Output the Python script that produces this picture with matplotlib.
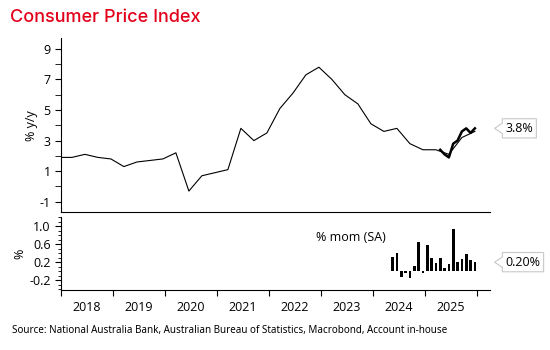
import numpy as np
import matplotlib
matplotlib.use('Agg')
from matplotlib import pyplot as plt
from matplotlib.path import Path
from matplotlib.ticker import MultipleLocator, FixedLocator, NullFormatter

plt.rcParams['font.family'] = ['Open Sans', 'DejaVu Sans']
plt.rcParams['axes.unicode_minus'] = False

# quarterly CPI, % y/y, Q4 2017 .. Q4 2025
q_start = (2017, 4)
cpi_yy_q = [1.9, 1.9, 2.1, 1.9, 1.8, 1.3, 1.6, 1.7, 1.8, 2.2, -0.3, 0.7, 0.9,
            1.1, 3.8, 3.0, 3.5, 5.1, 6.1, 7.3, 7.8, 7.0, 6.0, 5.4, 4.1,
            3.6, 3.8, 2.8, 2.4, 2.4, 2.1, 3.2, 3.6]

# monthly CPI, % y/y, Apr 2025 .. Dec 2025
m_start = (2025, 4)
cpi_yy_m = [2.4, 2.1, 1.9, 2.8, 3.0, 3.6, 3.8, 3.5, 3.8]

# monthly CPI, % m/m SA, May 2024 .. Dec 2025
mom_start = (2024, 5)
cpi_mom = [0.32, 0.40, -0.12, -0.05, -0.15, 0.12, 0.64, -0.05, 0.58, 0.29,
           0.18, 0.29, 0.06, 0.16, 0.93, 0.21, 0.27, 0.39, 0.24, 0.20]

years = list(range(2018, 2026))


def quarter_times(start, n):
    y, q = start
    k = np.arange(n) + (y * 4 + q - 1)
    return k // 4 + ((k % 4) * 3 + 2.5) / 12.0


def month_times(start, n):
    y, m = start
    k = np.arange(n) + (y * 12 + m - 1)
    return k // 12 + ((k % 12) + 0.5) / 12.0


tq = quarter_times(q_start, len(cpi_yy_q))
tm = month_times(m_start, len(cpi_yy_m))
tmom = month_times(mom_start, len(cpi_mom))


def callout_box(x0, y0, width, height, mutation_size):
    pad = mutation_size * 0.25
    x0 -= pad
    y0 -= pad
    width += 2 * pad
    height += 2 * pad
    x1, y1 = x0 + width, y0 + height
    ym = y0 + height / 2
    h = height * 0.27
    verts = [(x0, y0), (x1, y0), (x1, y1), (x0, y1), (x0, ym + h),
             (x0 - h * 1.5, ym), (x0, ym - h), (x0, y0)]
    return Path(verts, closed=True)


fig = plt.figure(figsize=(5.5, 3.5), dpi=100)
ax1 = fig.add_axes([0.111, 0.393, 0.78, 0.498])
ax2 = fig.add_axes([0.111, 0.171, 0.78, 0.209], sharex=ax1)

ax1.plot(tq, cpi_yy_q, color='black', lw=0.8)
ax1.plot(tm, cpi_yy_m, color='black', lw=1.8)
ax1.set_ylim(-1.7, 9.7)
ax1.set_xlim(2018.0, 2026.25)
ax1.yaxis.set_major_locator(FixedLocator([-1, 1, 3, 5, 7, 9]))
ax1.yaxis.set_minor_locator(FixedLocator([0, 2, 4, 6, 8]))
ax1.set_ylabel('% y/y', fontsize=9, labelpad=1)
ax1.tick_params(axis='y', which='both', direction='out', length=4, labelsize=9)
ax1.tick_params(axis='x', which='both', bottom=False, labelbottom=False)
for s in ['top', 'right']:
    ax1.spines[s].set_visible(False)

ax2.bar(tmom, cpi_mom, width=0.052, color='black')
ax2.set_ylim(-0.42, 1.2)
ax2.yaxis.set_major_locator(FixedLocator([-0.2, 0.2, 0.6, 1.0]))
ax2.yaxis.set_minor_locator(MultipleLocator(0.1))
ax2.set_yticklabels(['-0.2', '0.2', '0.6', '1.0'])
ax2.set_ylabel('%', fontsize=9, labelpad=2)
ax2.tick_params(axis='y', which='major', direction='out', length=4, labelsize=9)
ax2.tick_params(axis='y', which='minor', direction='out', length=2.5)
ax2.xaxis.set_major_locator(FixedLocator(years + [2026]))
ax2.xaxis.set_major_formatter(NullFormatter())
ax2.xaxis.set_minor_locator(FixedLocator([y + 0.5 for y in years]))
ax2.set_xticklabels([str(y) for y in years], minor=True)
ax2.tick_params(axis='x', which='major', direction='out', length=4)
ax2.tick_params(axis='x', which='minor', length=0, labelsize=9, pad=8)
for s in ['top', 'right']:
    ax2.spines[s].set_visible(False)
ax2.text(0.675, 0.72, '% mom (SA)', transform=ax2.transAxes, ha='center',
         va='center', fontsize=9)

box = dict(boxstyle=callout_box, fc='white', ec='#c8c8c8', lw=0.8)
ax1.text(1.036, cpi_yy_m[-1], f'{cpi_yy_m[-1]:.1f}%',
         transform=ax1.get_yaxis_transform(), ha='left', va='center',
         fontsize=9, bbox=box)
ax2.text(1.036, cpi_mom[-1], f'{cpi_mom[-1]:.2f}%',
         transform=ax2.get_yaxis_transform(), ha='left', va='center',
         fontsize=9, bbox=box)

fig.text(0.018, 0.95, 'Consumer Price Index', color='#e3001b', fontsize=13,
         family=['Inter', 'DejaVu Sans'], weight='medium', va='center')
fig.text(0.022, 0.057, 'Source: National Australia Bank, Australian Bureau of '
         'Statistics, Macrobond, Account in-house', fontsize=7.1,
         family=['Noto Sans', 'DejaVu Sans'], va='center')

fig.savefig('out.png', dpi=100)
